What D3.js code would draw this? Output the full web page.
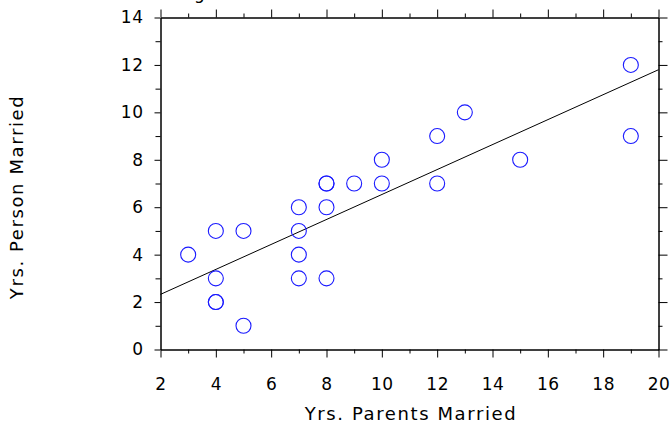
<!DOCTYPE html>
<html>
<head>
<meta charset="utf-8">
<script src="https://cdn.jsdelivr.net/npm/d3@7"></script>
<style>
  body { margin: 0; background: #fff; }
  svg { display: block; }
  text { font-family: "DejaVu Sans", Verdana, sans-serif; fill: #000; }
</style>
</head>
<body>
<div id="chart"></div>
<script>
// years the parents were married vs. years the person was married
var parentsYrs = [3, 4, 4, 4, 4, 5, 5, 7, 7, 7, 7, 8, 8, 8, 8, 9, 10, 10, 12, 12, 13, 15, 19, 19];
var personYrs  = [4, 5, 3, 2, 2, 5, 1, 6, 5, 4, 3, 7, 7, 6, 3, 7, 8, 7, 9, 7, 10, 8, 12, 9];
var xTicks = [2, 4, 6, 8, 10, 12, 14, 16, 18, 20];
var yTicks = [0, 2, 4, 6, 8, 10, 12, 14];

var width = 672, height = 428;
var pLeft = 160.5, pRight = 658.5, pTop = 17.5, pBottom = 349.5;

var svg = d3.select("#chart").append("svg")
    .attr("width", width)
    .attr("height", height);

var x = d3.scaleLinear().domain([2, 20]).range([pLeft, pRight]);
var y = d3.scaleLinear().domain([0, 14]).range([pBottom, pTop]);

var minorX = d3.range(2, 21, 1).filter(function(d) { return d % 2; });
var minorY = d3.range(0, 15, 1).filter(function(d) { return d % 2; });

// bottom + top
svg.append("g").attr("transform", "translate(0," + pBottom + ")")
    .call(d3.axisBottom(x).tickValues(xTicks).tickSize(8).tickPadding(20).tickSizeOuter(0));
svg.append("g").attr("transform", "translate(0," + pBottom + ")")
    .call(d3.axisBottom(x).tickValues(minorX).tickSize(4).tickFormat("").tickSizeOuter(0));
svg.append("g").attr("transform", "translate(0," + pTop + ")")
    .call(d3.axisTop(x).tickValues(xTicks).tickSize(8).tickFormat("").tickSizeOuter(0));
svg.append("g").attr("transform", "translate(0," + pTop + ")")
    .call(d3.axisTop(x).tickValues(minorX).tickSize(4).tickFormat("").tickSizeOuter(0));

// left + right
svg.append("g").attr("transform", "translate(" + pLeft + ",0)")
    .call(d3.axisLeft(y).tickValues(yTicks).tickSize(6).tickPadding(11).tickSizeOuter(0));
svg.append("g").attr("transform", "translate(" + pLeft + ",0)")
    .call(d3.axisLeft(y).tickValues(minorY).tickSize(5).tickFormat("").tickSizeOuter(0));
svg.append("g").attr("transform", "translate(" + pRight + ",0)")
    .call(d3.axisRight(y).tickValues(yTicks).tickSize(9).tickFormat("").tickSizeOuter(0));
svg.append("g").attr("transform", "translate(" + pRight + ",0)")
    .call(d3.axisRight(y).tickValues(minorY).tickSize(4).tickFormat("").tickSizeOuter(0));

svg.selectAll(".tick text").style("font-size", "17px").style("font-family", "DejaVu Sans")
    .style("letter-spacing", "0.5px");
svg.selectAll(".domain, .tick line").attr("stroke", "#000");

// least squares fit
var mx = d3.mean(parentsYrs), my = d3.mean(personYrs);
var sxy = d3.sum(parentsYrs, function(d, i) { return (d - mx) * (personYrs[i] - my); });
var sxx = d3.sum(parentsYrs, function(d) { return (d - mx) * (d - mx); });
var slope = sxy / sxx, icpt = my - slope * mx;

svg.append("line")
    .attr("x1", x(2)).attr("y1", y(icpt + slope * 2))
    .attr("x2", x(20)).attr("y2", y(icpt + slope * 20))
    .attr("stroke", "#000").attr("stroke-width", 1);

svg.selectAll("circle")
    .data(parentsYrs)
    .enter().append("circle")
    .attr("cx", function(d) { return x(d); })
    .attr("cy", function(d, i) { return y(personYrs[i]); })
    .attr("r", 7.5)
    .attr("fill", "none")
    .attr("stroke", "#1a1aff")
    .attr("stroke-width", 1.1);

svg.append("text")
    .attr("x", 411).attr("y", 420)
    .attr("text-anchor", "middle")
    .style("font-size", "18px")
    .style("letter-spacing", "1.6px")
    .text("Yrs. Parents Married");

svg.append("text")
    .attr("transform", "translate(23,197) rotate(-90)")
    .attr("text-anchor", "middle")
    .style("font-size", "18px")
    .style("letter-spacing", "1.6px")
    .text("Yrs. Person Married");

// title, mostly above the frame
svg.append("text")
    .attr("x", 140).attr("y", -1)
    .style("font-size", "17px")
    .text("Marriage");
</script>
</body>
</html>
